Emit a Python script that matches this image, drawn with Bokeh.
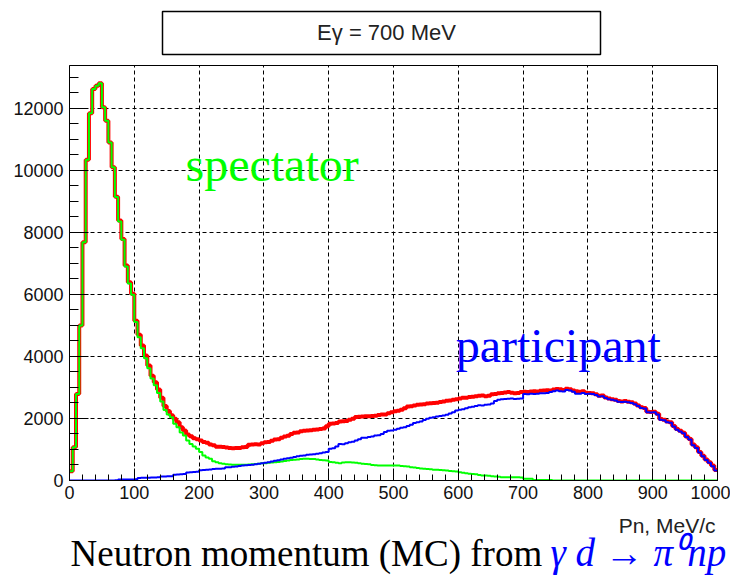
from bokeh.plotting import figure
from bokeh.layouts import column
from bokeh.models import Range1d, FixedTicker, Label
from bokeh.embed import file_html
from bokeh.resources import INLINE

# ---------------- data (5 MeV/c bins, 0..1000 MeV/c) ----------------
bin_edges = list(range(0, 1001, 5))

total = [
    300, 1070, 2790, 5000, 7680, 10340, 11840, 12620, 12730, 12810, 12030, 11600, 10900, 10100, 9150, 8380, 7790, 6930, 6390, 6020,
    5150, 4700, 4350, 4030, 3710, 3380, 3170, 2930, 2670, 2400, 2240, 2100, 1990, 1880, 1720, 1610, 1480, 1430, 1360, 1330,
    1290, 1240, 1220, 1160, 1140, 1090, 1085, 1080, 1060, 1045, 1040, 1045, 1050, 1075, 1080, 1150, 1160, 1165, 1160, 1200,
    1235, 1240, 1280, 1320, 1330, 1380, 1420, 1440, 1500, 1536, 1550, 1590, 1600, 1610, 1620, 1640, 1645, 1660, 1680, 1750,
    1830, 1840, 1850, 1900, 1910, 1920, 1960, 1990, 2050, 2055, 2060, 2070, 2075, 2080, 2090, 2110, 2125, 2130, 2170, 2200,
    2235, 2250, 2280, 2330, 2385, 2390, 2420, 2440, 2450, 2460, 2480, 2490, 2500, 2510, 2530, 2550, 2570, 2580, 2600, 2620,
    2640, 2665, 2670, 2690, 2700, 2720, 2730, 2740, 2720, 2730, 2780, 2790, 2810, 2820, 2840, 2850, 2830, 2810, 2820, 2850,
    2860, 2850, 2870, 2880, 2870, 2890, 2900, 2910, 2900, 2930, 2950, 2940, 2920, 2960, 2940, 2900, 2880, 2860, 2880, 2830,
    2820, 2810, 2780, 2730, 2740, 2680, 2640, 2620, 2600, 2560, 2550, 2560, 2540, 2520, 2480, 2420, 2360, 2340, 2220, 2210,
    2220, 2150, 1980, 1960, 1900, 1880, 1760, 1660, 1600, 1540, 1420, 1340, 1160, 1070, 920, 800, 680, 590, 480, 340,
]

participant = [
    0, 0, 0, 0, 0, 0, 0, 0, 0, 0, 0, 0, 0, 0, 10, 30, 30, 32, 35, 35,
    40, 80, 85, 88, 90, 95, 100, 105, 125, 130, 135, 140, 185, 190, 200, 210, 260, 270, 275, 280,
    330, 340, 345, 355, 370, 375, 380, 390, 425, 430, 440, 450, 470, 480, 490, 500, 510, 520, 540, 555,
    570, 590, 610, 640, 650, 680, 700, 720, 735, 760, 780, 800, 810, 830, 840, 850, 860, 880, 900, 920,
    1020, 1040, 1100, 1180, 1170, 1200, 1235, 1250, 1290, 1330, 1375, 1380, 1400, 1420, 1450, 1460, 1500, 1560, 1600, 1612,
    1640, 1670, 1700, 1720, 1760, 1800, 1850, 1880, 1900, 1950, 1990, 2020, 2040, 2060, 2080, 2095, 2120, 2160, 2200, 2256,
    2280, 2300, 2330, 2364, 2380, 2400, 2430, 2420, 2440, 2450, 2480, 2560, 2600, 2620, 2630, 2632, 2640, 2630, 2632, 2640,
    2790, 2780, 2793, 2790, 2800, 2810, 2815, 2820, 2850, 2880, 2900, 2880, 2870, 2920, 2900, 2860, 2800, 2793, 2820, 2790,
    2800, 2790, 2760, 2710, 2720, 2660, 2620, 2600, 2580, 2540, 2530, 2540, 2520, 2500, 2460, 2400, 2340, 2320, 2200, 2190,
    2200, 2130, 1960, 1940, 1880, 1860, 1740, 1640, 1580, 1520, 1400, 1320, 1140, 1050, 900, 780, 660, 570, 460, 320,
]

spectator = [
    300, 1070, 2790, 5000, 7680, 10340, 11840, 12620, 12730, 12810, 12030, 11600, 10900, 10100, 9140, 8350, 7760, 6900, 6355, 5985,
    5110, 4620, 4265, 3940, 3620, 3285, 3070, 2825, 2545, 2270, 2130, 2040, 1830, 1720, 1550, 1450, 1290, 1180, 1100, 1020,
    920, 810, 740, 700, 620, 590, 560, 540, 520, 515, 510, 505, 505, 505, 510, 515, 520, 530, 540, 555,
    560, 570, 580, 590, 600, 615, 630, 645, 660, 670, 680, 690, 700, 700, 695, 690, 680, 660, 650, 645,
    600, 590, 570, 560, 580, 590, 590, 580, 570, 560, 540, 530, 520, 500, 490, 485, 483, 483, 480, 483,
    483, 480, 470, 460, 450, 430, 420, 400, 390, 376, 370, 360, 350, 344, 340, 330, 320, 310, 301, 290,
    270, 250, 237, 220, 210, 200, 180, 165, 160, 150, 140, 129, 120, 107, 107, 107, 107, 107, 105, 100,
    54, 54, 54, 20, 20, 20, 20, 20, 15, 0, 0, 0, 0, 0, 0, 0, 0, 0, 0, 0,
    0, 0, 0, 0, 0, 0, 0, 0, 0, 0, 0, 0, 0, 0, 0, 0, 0, 0, 0, 0,
    0, 0, 0, 0, 0, 0, 0, 0, 0, 0, 0, 0, 0, 0, 0, 0, 0, 0, 0, 0,
]

x_ticks = [0, 100, 200, 300, 400, 500, 600, 700, 800, 900, 1000]
x_minor = list(range(0, 1001, 20))
y_ticks = [0, 2000, 4000, 6000, 8000, 10000, 12000]
y_minor = list(range(0, 13001, 500))

title_text = "E\u03b3 = 700 MeV"
x_title = "Pn, MeV/c"
caption_plain = "Neutron momentum (MC) from"
caption_reaction = "\u03b3 d \u2192 \u03c0\u2070np"

W = 730
GREEN = "#00ff00"


def blank(h):
    f = figure(width=W, height=h, output_backend="svg", toolbar_location=None,
               x_range=Range1d(0, W), y_range=Range1d(h, 0),
               x_axis_type=None, y_axis_type=None, min_border=0)
    f.outline_line_color = None
    f.background_fill_color = "white"
    f.border_fill_color = "white"
    f.frame_align = False
    return f


# ---------------- title box ----------------
top = blank(63)
top.quad(left=[162], right=[600], top=[11], bottom=[54],
         fill_color="white", line_color="black", line_width=1.5)
top.add_layout(Label(x=386, y=32, text=title_text, text_align="center", text_baseline="middle",
                     text_font="Liberation Sans", text_font_size="22px", text_color="#222222"))

# ---------------- main histogram frame ----------------
p = figure(width=W, height=447, output_backend="svg", toolbar_location=None,
           x_range=Range1d(0, 1000), y_range=Range1d(0, 13380),
           min_border_left=69, min_border_right=13, min_border_top=2, min_border_bottom=30)
p.background_fill_color = "white"
p.border_fill_color = "white"
p.outline_line_color = "black"
p.outline_line_width = 1
p.frame_align = False

for ax, tk, mn, tin, min_in in ((p.xaxis[0], x_ticks, x_minor, 12, 6), (p.yaxis[0], y_ticks, y_minor, 19, 9)):
    ax.ticker = FixedTicker(ticks=tk, minor_ticks=mn)
    ax.major_tick_in = tin
    ax.major_tick_out = 0
    ax.minor_tick_in = min_in
    ax.minor_tick_out = 0
    ax.axis_line_color = "black"
    ax.major_tick_line_color = "black"
    ax.minor_tick_line_color = "black"
    ax.major_label_text_font = "Liberation Sans"
    ax.major_label_text_font_size = "18px"
    ax.major_label_text_color = "#111111"
p.xaxis.major_label_standoff = 5
p.yaxis.major_label_standoff = 6

for g in (p.xgrid[0], p.ygrid[0]):
    g.grid_line_color = "black"
    g.grid_line_dash = "4 3"
    g.grid_line_width = 1
    g.grid_line_alpha = 1

p.step(x=bin_edges, y=total + [total[-1]], mode="after", line_color="#ff0000", line_width=4)
p.step(x=bin_edges, y=spectator + [spectator[-1]], mode="after", line_color=GREEN, line_width=2)
p.step(x=bin_edges, y=participant + [participant[-1]], mode="after", line_color="#0000ff", line_width=2)

p.add_layout(Label(x=179, y=10190, text="spectator", text_font="Liberation Serif",
                   text_font_size="48px", text_color=GREEN, text_baseline="alphabetic"))
p.add_layout(Label(x=596, y=4350, text="participant", text_font="Liberation Serif",
                   text_font_size="48px", text_color="#0000ff", text_baseline="alphabetic"))

# ---------------- axis title and caption ----------------
bottom = blank(65)
bottom.add_layout(Label(x=715, y=15, text=x_title, text_align="right", text_baseline="alphabetic",
                        text_font="Liberation Sans", text_font_size="21px", text_color="#222222"))
bottom.add_layout(Label(x=70, y=43, text=caption_plain, text_baseline="alphabetic",
                        text_font="Liberation Serif", text_font_size="37px", text_color="black"))
bottom.add_layout(Label(x=550, y=42, text=caption_reaction, text_baseline="alphabetic",
                        text_font="Liberation Serif", text_font_style="italic",
                        text_font_size="39px", text_color="#0000ff"))

layout = column(top, p, bottom, spacing=0)
open("out.html", "w").write(file_html(layout, INLINE))
